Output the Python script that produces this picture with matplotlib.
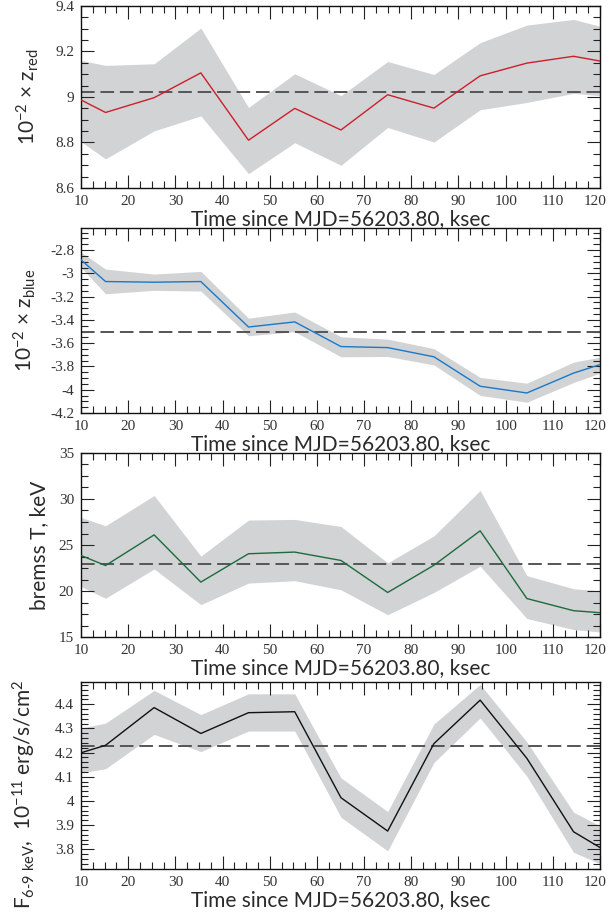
import matplotlib
matplotlib.use("Agg")
import matplotlib.pyplot as plt
from matplotlib.ticker import MultipleLocator, FuncFormatter
from matplotlib.transforms import ScaledTranslation

plt.rcParams['mathtext.fontset'] = 'custom'
plt.rcParams['mathtext.rm'] = 'Lato'
plt.rcParams['mathtext.it'] = 'Lato:italic'
plt.rcParams['mathtext.default'] = 'regular'

# ---- data ----
time = [10.0, 15.2, 25.5, 35.4, 45.5, 55.3, 65.1, 75.0, 84.8, 94.6, 104.5, 114.4, 120.0]

zred = [8.987, 8.932, 8.997, 9.106, 8.810, 8.950, 8.855, 9.010, 8.951, 9.093, 9.149, 9.179, 9.158]
zred_hi = [9.161, 9.139, 9.146, 9.303, 8.954, 9.102, 9.006, 9.156, 9.099, 9.239, 9.316, 9.341, 9.311]
zred_lo = [8.804, 8.728, 8.851, 8.917, 8.663, 8.799, 8.700, 8.866, 8.802, 8.944, 8.976, 9.016, 9.006]
zred_mean = 9.024

zblue = [-2.884, -3.070, -3.076, -3.070, -3.461, -3.417, -3.629, -3.638, -3.717, -3.970, -4.028, -3.857, -3.784]
zblue_hi = [-2.817, -2.963, -3.006, -2.983, -3.385, -3.332, -3.545, -3.565, -3.647, -3.894, -3.944, -3.763, -3.720]
zblue_lo = [-2.948, -3.175, -3.146, -3.152, -3.536, -3.501, -3.717, -3.714, -3.787, -4.049, -4.107, -3.938, -3.857]
zblue_mean = -3.50

kT = [23.86, 22.77, 26.10, 20.97, 24.05, 24.23, 23.32, 19.84, 22.80, 26.54, 19.18, 17.86, 17.64]
kT_hi = [28.0, 27.09, 30.38, 23.79, 27.71, 27.78, 27.01, 23.06, 25.99, 30.93, 21.67, 20.24, 20.02]
kT_lo = [20.49, 19.21, 22.40, 18.52, 20.86, 21.12, 20.13, 17.42, 19.84, 22.69, 17.01, 15.81, 15.55]
kT_mean = 22.95

flux = [4.199, 4.230, 4.386, 4.279, 4.365, 4.369, 4.013, 3.875, 4.237, 4.417, 4.176, 3.872, 3.807]
flux_hi = [4.301, 4.322, 4.457, 4.357, 4.443, 4.443, 4.095, 3.956, 4.318, 4.482, 4.244, 3.953, 3.896]
flux_lo = [4.116, 4.133, 4.275, 4.204, 4.289, 4.289, 3.932, 3.793, 4.159, 4.343, 4.102, 3.787, 3.740]
flux_mean = 4.226

xlabel = 'Time since MJD=56203.80, ksec'
ylabels = [r'10$^{-2}$ $\times$ z$_{red}$',
           r'10$^{-2}$ $\times$ z$_{blue}$',
           'bremss T, keV',
           r'F$_{\text{6-9 keV}}$,  10$^{-11}$ erg/s/cm$^{2}$']

panels = [
    dict(y=zred, hi=zred_hi, lo=zred_lo, mean=zred_mean, color='#cc1f2e',
         ylim=(8.6, 9.4), major=0.2, minor=0.05, ylx=-0.077, yly=0.5),
    dict(y=zblue, hi=zblue_hi, lo=zblue_lo, mean=zblue_mean, color='#1a78c8',
         ylim=(-4.2, -2.61), major=0.2, minor=0.05, ylx=-0.082, yly=0.5),
    dict(y=kT, hi=kT_hi, lo=kT_lo, mean=kT_mean, color='#1c6b3c',
         ylim=(15, 35), major=5, minor=1.25, ylx=-0.062, yly=0.5),
    dict(y=flux, hi=flux_hi, lo=flux_lo, mean=flux_mean, color='#111111',
         ylim=(3.718, 4.492), major=0.1, minor=0.02, ylx=-0.082, yly=0.4),
]

# axes rectangles in pixels (top, bottom)
rects_px = [(6, 188), (228, 413), (453, 637), (682, 869)]
W, H = 609, 913
left_px, right_px = 81, 600

fig = plt.figure(figsize=(W / 100, H / 100), dpi=100)
label_font = ['Lato', 'DejaVu Sans']
tick_font = ['Liberation Serif', 'DejaVu Serif']
fmt = FuncFormatter(lambda v, p: '%g' % round(v, 6))

axes = []
for (top, bot), p, yl in zip(rects_px, panels, ylabels):
    ax = fig.add_axes([left_px / W, 1 - bot / H, (right_px - left_px) / W, (bot - top) / H])
    ax.fill_between(time, p['lo'], p['hi'], color='#d2d3d5', lw=0, zorder=1)
    ax.plot(time, p['y'], color=p['color'], lw=1.0, zorder=3)
    ax.axhline(p['mean'], color='#555555', lw=1.4, ls=(0, (7, 3)), zorder=2)
    ax.set_xlim(10, 120)
    ax.set_ylim(*p['ylim'])
    ax.xaxis.set_major_locator(MultipleLocator(10))
    ax.xaxis.set_minor_locator(MultipleLocator(2.5))
    ax.yaxis.set_major_locator(MultipleLocator(p['major']))
    ax.yaxis.set_minor_locator(MultipleLocator(p['minor']))
    ax.xaxis.set_major_formatter(fmt)
    ax.yaxis.set_major_formatter(fmt)
    ax.tick_params(which='both', direction='in', top=True, right=True, width=0.8, color='#222222')
    ax.tick_params(which='major', length=9.5, pad=5)
    ax.tick_params(which='minor', length=5)
    for s in ax.spines.values():
        s.set_linewidth(1.0)
        s.set_color('#111111')
    ax.set_xlabel(xlabel, fontsize=15, family=label_font,
                  color='#2a2a2a', labelpad=1)
    ax.set_ylabel(yl, fontsize=15, family=label_font, color='#2a2a2a')
    ax.yaxis.set_label_coords(p['ylx'], p['yly'])
    axes.append(ax)

fig.canvas.draw()
shift = ScaledTranslation(-5 / 100, 0, fig.dpi_scale_trans)
for ax in axes:
    xl = ax.get_xticklabels()
    for lab in xl + ax.get_yticklabels():
        lab.set_fontfamily(tick_font)
        lab.set_fontsize(11)
        lab.set_color('#333333')
    for lab in xl:
        if lab.get_text() == '120':
            lab.set_transform(lab.get_transform() + shift)

fig.savefig('out.png', dpi=100)
